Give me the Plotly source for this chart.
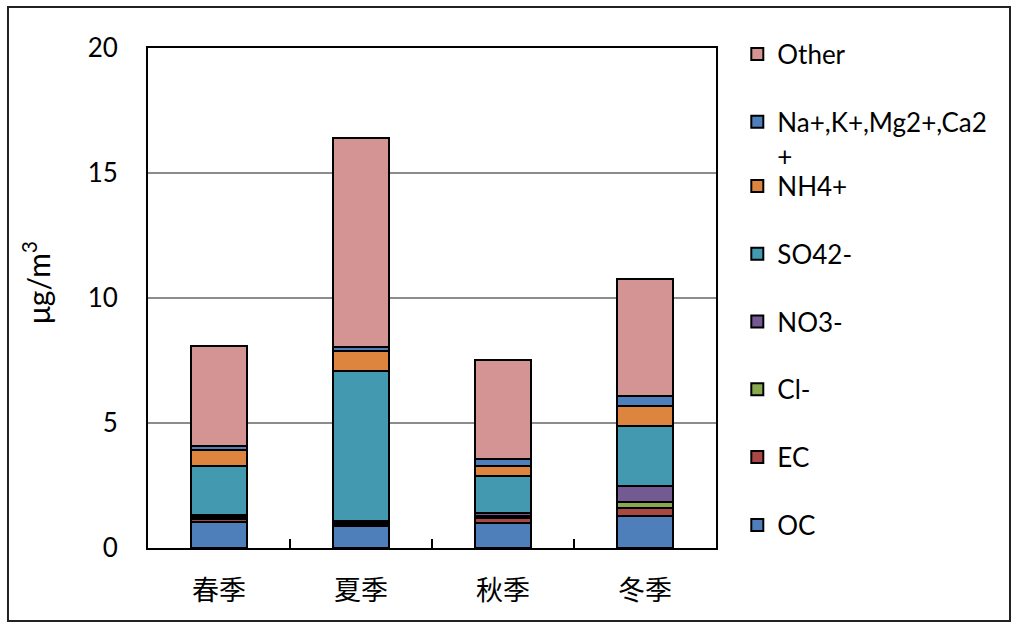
import plotly.graph_objects as go

seasons = ["春季", "夏季", "秋季", "冬季"]

oc = [1.03, 0.88, 0.99, 1.29]
ec = [0.13, 0.08, 0.21, 0.32]
cl = [0.08, 0.05, 0.07, 0.24]
no3 = [0.10, 0.06, 0.12, 0.64]
so4 = [1.96, 6.03, 1.49, 2.38]
nh4 = [0.62, 0.80, 0.41, 0.81]
cations = [0.15, 0.13, 0.27, 0.39]
other = [4.00, 8.37, 3.98, 4.70]

series_names = ["OC", "EC", "Cl-", "NO3-", "SO42-", "NH4+", "Na+,K+,Mg2+,Ca2<br>+", "Other"]
series_values = [oc, ec, cl, no3, so4, nh4, cations, other]
series_colors = ["#4f7fbb", "#a94744", "#8aa84f", "#735a92", "#4399b0", "#dd853f", "#4f7fbb", "#d49494"]
series_legend = ["legend2", "legend2", "legend2", "legend2", "legend2", "legend2", "legend", "legend"]

LATIN = "Lato, 'Liberation Sans', sans-serif"
CJK = "'Noto Sans CJK SC', sans-serif"

fig = go.Figure()
n = len(series_names)
for i, (name, vals, col, lg) in enumerate(zip(series_names, series_values, series_colors, series_legend)):
    fig.add_trace(go.Bar(
        x=seasons, y=vals, name=name, legendgroup=f"g{i}", legendrank=n - i, legend=lg,
        marker=dict(color=col, line=dict(color="#000000", width=2)),
    ))

legend_common = dict(
    traceorder="grouped", tracegroupgap=31,
    x=1.0375, xanchor="left", yanchor="top",
    font=dict(family=LATIN, size=26, color="#000000"),
    valign="top", bgcolor="rgba(0,0,0,0)",
    itemwidth=30, maxheight=620,
)

fig.update_layout(
    barmode="stack",
    bargap=0.6,
    width=1012, height=630,
    margin=dict(l=148, r=296, t=48, b=82, autoexpand=False),
    paper_bgcolor="white", plot_bgcolor="white",
    font=dict(family=LATIN, size=25, color="#000000"),
    showlegend=True,
    legend=dict(legend_common, y=1.035),
    legend2=dict(legend_common, y=0.771),
    xaxis=dict(
        automargin=False,
        showline=True, linecolor="#000000", linewidth=2, mirror=True,
        ticks="inside", ticklen=9, tickwidth=2, tickcolor="#000000",
        tickson="boundaries",
        tickfont=dict(family=CJK, size=27, color="#000000"),
        ticklabelstandoff=18,
    ),
    yaxis=dict(
        automargin=False,
        range=[0, 20], dtick=5, tick0=0,
        showline=True, linecolor="#000000", linewidth=2, mirror=True,
        showgrid=True, gridcolor="#8c8c8c", gridwidth=2,
        zeroline=False, ticks="",
        tickfont=dict(family=LATIN, size=26, color="#000000"),
        ticklabelstandoff=23,
    ),
)

fig.add_annotation(
    text="μg/m<sup>3</sup>", textangle=-90, showarrow=False,
    xref="paper", yref="paper", x=-0.197, y=0.53, xanchor="center", yanchor="middle",
    font=dict(family=LATIN, size=30, color="#000000"),
)

fig.add_shape(type="rect", xref="paper", yref="paper",
              x0=-0.2465, x1=1.5176, y0=-0.146, y1=1.082,
              line=dict(color="#222222", width=2), fillcolor="rgba(0,0,0,0)", layer="below")

fig.write_html("out.html", config={"displayModeBar": False},
               post_script="document.body.style.margin='0';")
